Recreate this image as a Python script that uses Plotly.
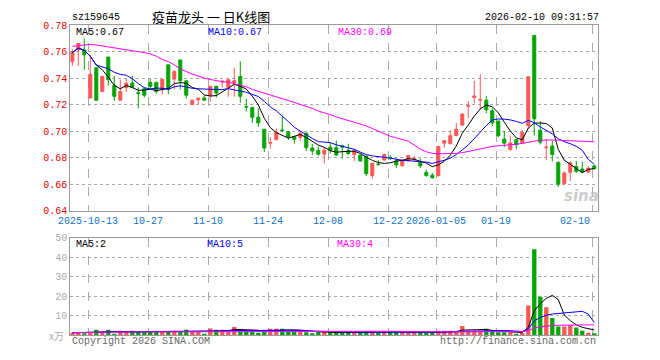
import plotly.graph_objects as go
import pandas as pd

# ---------------- data ----------------
opens = [0.7524, 0.7612, 0.7612, 0.7251, 0.7478, 0.7300, 0.7559, 0.7344, 0.7234, 0.7329,
         0.7363, 0.7290, 0.7320, 0.7368, 0.7368, 0.7315, 0.7500, 0.7393, 0.7537, 0.7380,
         0.7202, 0.7237, 0.7251, 0.7271, 0.7339, 0.7371, 0.7332, 0.7368, 0.7412, 0.7185,
         0.7178, 0.7105, 0.7015, 0.6910, 0.6937, 0.7010, 0.6995, 0.6959, 0.6954, 0.6985,
         0.6873, 0.6856, 0.6827, 0.6880, 0.6876, 0.6890, 0.6856, 0.6824, 0.6820, 0.6812,
         0.6666, 0.6753, 0.6783, 0.6802, 0.6776, 0.6739, 0.6776, 0.6788, 0.6763, 0.6690,
         0.6668, 0.6666, 0.6910, 0.6905, 0.6966, 0.7046, 0.7188, 0.7254, 0.7234, 0.7234,
         0.7154, 0.7076, 0.6941, 0.6863, 0.6937, 0.6912, 0.7044, 0.7722, 0.7007, 0.6875,
         0.6888, 0.6766, 0.6605, 0.6690, 0.6734, 0.6715, 0.6693, 0.6739]
highs = [0.7620, 0.7661, 0.7698, 0.7573, 0.7478, 0.7417, 0.7559, 0.7417, 0.7388, 0.7393,
         0.7417, 0.7332, 0.7332, 0.7393, 0.7373, 0.7390, 0.7500, 0.7461, 0.7537, 0.7380,
         0.7234, 0.7249, 0.7271, 0.7344, 0.7339, 0.7388, 0.7393, 0.7478, 0.7527, 0.7246,
         0.7178, 0.7173, 0.7015, 0.6954, 0.7020, 0.7112, 0.6998, 0.6965, 0.6998, 0.6990,
         0.6905, 0.6885, 0.6880, 0.6917, 0.6929, 0.6898, 0.6905, 0.6868, 0.6825, 0.6815,
         0.6759, 0.6783, 0.6832, 0.6820, 0.6795, 0.6788, 0.6820, 0.6812, 0.6795, 0.6710,
         0.6685, 0.6885, 0.6929, 0.7007, 0.7063, 0.7137, 0.7227, 0.7380, 0.7429, 0.7266,
         0.7173, 0.7080, 0.7002, 0.6966, 0.6940, 0.7007, 0.7410, 0.7722, 0.7076, 0.6941,
         0.6929, 0.6770, 0.6698, 0.6771, 0.6776, 0.6771, 0.6734, 0.6741]
lows = [0.7490, 0.7490, 0.7461, 0.7246, 0.7229, 0.7295, 0.7344, 0.7229, 0.7234, 0.7295,
        0.7332, 0.7173, 0.7254, 0.7320, 0.7283, 0.7278, 0.7278, 0.7315, 0.7315, 0.7246,
        0.7197, 0.7202, 0.7229, 0.7222, 0.7254, 0.7332, 0.7259, 0.7259, 0.7215, 0.7149,
        0.7063, 0.7032, 0.6844, 0.6868, 0.6929, 0.6995, 0.6934, 0.6905, 0.6929, 0.6851,
        0.6820, 0.6815, 0.6759, 0.6832, 0.6815, 0.6795, 0.6820, 0.6776, 0.6771, 0.6661,
        0.6641, 0.6739, 0.6778, 0.6783, 0.6722, 0.6734, 0.6771, 0.6771, 0.6722, 0.6656,
        0.6641, 0.6656, 0.6876, 0.6905, 0.6963, 0.7039, 0.7100, 0.7210, 0.7161, 0.7137,
        0.7039, 0.6954, 0.6880, 0.6854, 0.6863, 0.6905, 0.7015, 0.6966, 0.6900, 0.6783,
        0.6771, 0.6580, 0.6595, 0.6624, 0.6685, 0.6685, 0.6685, 0.6717]
closes = [0.7593, 0.7661, 0.7576, 0.7429, 0.7234, 0.7412, 0.7388, 0.7263, 0.7300, 0.7361,
          0.7332, 0.7286, 0.7271, 0.7339, 0.7300, 0.7390, 0.7315, 0.7449, 0.7380, 0.7271,
          0.7234, 0.7249, 0.7234, 0.7337, 0.7288, 0.7376, 0.7388, 0.7380, 0.7263, 0.7183,
          0.7105, 0.7063, 0.6873, 0.6914, 0.6990, 0.7005, 0.6959, 0.6939, 0.6983, 0.6876,
          0.6851, 0.6827, 0.6856, 0.6856, 0.6820, 0.6880, 0.6832, 0.6856, 0.6776, 0.6680,
          0.6759, 0.6749, 0.6824, 0.6798, 0.6746, 0.6783, 0.6817, 0.6793, 0.6739, 0.6666,
          0.6649, 0.6885, 0.6929, 0.6966, 0.7015, 0.7129, 0.7193, 0.7266, 0.7239, 0.7161,
          0.7063, 0.6966, 0.6910, 0.6912, 0.6898, 0.6990, 0.7410, 0.7093, 0.6917, 0.6880,
          0.6824, 0.6600, 0.6685, 0.6763, 0.6698, 0.6693, 0.6722, 0.6717]
# MA30 of price (needs history before the first bar)
ma30_price = [0.7640, 0.7645, 0.7652, 0.7654, 0.7650, 0.7643, 0.7638, 0.7630, 0.7622, 0.7615,
              0.7607, 0.7600, 0.7592, 0.7583, 0.7565, 0.7540, 0.7525, 0.7500, 0.7470, 0.7450,
              0.7430, 0.7417, 0.7400, 0.7390, 0.7380, 0.7373, 0.7370, 0.7360, 0.7349, 0.7335,
              0.7315, 0.7300, 0.7285, 0.7270, 0.7259, 0.7245, 0.7232, 0.7218, 0.7205, 0.7190,
              0.7172, 0.7152, 0.7140, 0.7125, 0.7108, 0.7095, 0.7080, 0.7068, 0.7053, 0.7040,
              0.7020, 0.7000, 0.6980, 0.6962, 0.6950, 0.6935, 0.6925, 0.6895, 0.6865, 0.6845,
              0.6833, 0.6830, 0.6830, 0.6832, 0.6833, 0.6838, 0.6848, 0.6855, 0.6865, 0.6878,
              0.6885, 0.6890, 0.6893, 0.6897, 0.6902, 0.6908, 0.6918, 0.6925, 0.6932, 0.6934,
              0.6934, 0.6932, 0.6930, 0.6928, 0.6925, 0.6922, 0.6921, 0.6920]
volumes = [1.3, 1.3, 1.0, 1.5, 2.8, 1.8, 2.8, 0.8, 1.8, 1.8,
           2.3, 1.8, 1.8, 1.8, 1.8, 1.8, 1.8, 2.3, 1.8, 2.8,
           1.8, 1.8, 0.8, 3.5, 2.8, 2.8, 1.8, 4.3, 3.1, 1.8,
           2.3, 1.3, 2.0, 3.3, 3.3, 3.3, 2.0, 2.0, 2.6, 1.6,
           1.0, 1.6, 1.8, 1.5, 1.2, 1.2, 1.5, 1.5, 1.5, 2.0,
           1.5, 1.2, 2.0, 2.0, 1.6, 2.0, 1.5, 1.5, 1.2, 1.2,
           1.2, 2.3, 2.3, 2.3, 1.6, 4.8, 2.3, 2.3, 2.3, 3.3,
           2.3, 1.6, 1.6, 1.6, 0.8, 1.2, 15.2, 44.1, 19.7, 14.4,
           8.9, 4.5, 4.5, 5.1, 4.0, 2.3, 1.3, 1.0]
date_ticks = {3: "2025-10-13", 13: "10-27", 23: "11-10", 33: "11-24", 43: "12-08",
              53: "12-22", 61: "2026-01-05", 71: "01-19", 87: "02-10"}
price_ticks = [0.64, 0.66, 0.68, 0.70, 0.72, 0.74, 0.76, 0.78]
vol_ticks = [10, 20, 30, 40, 50]

# ---------------- derived ----------------
n = len(closes)
idx = list(range(n))
cs = pd.Series(closes)
ma5 = cs.rolling(5, min_periods=1).mean()
ma10 = cs.rolling(10, min_periods=1).mean()
vs = pd.Series(volumes)
vma5 = vs.rolling(5, min_periods=1).mean()
vma10 = vs.rolling(10, min_periods=1).mean()
vma30 = vs.rolling(30, min_periods=1).mean()

RED = "#ff5656"
GREEN = "#00a600"
GRID = "#aaaaaa"
BORDER = "#999999"
MONO = "Liberation Mono, DejaVu Sans Mono, monospace"

W, H = 660, 360
XL, XR = 70.3, 597.7
PT, PB = 20.7, 212.3
VT, VB = 240.0, 340.7


def px(x):
    return x / W


def py(y):
    return 1 - y / H


x_range = [-0.333, 87.57]
grid_x = [k - 0.333 for k in date_ticks]

fig = go.Figure()
fig.add_trace(go.Candlestick(
    x=idx, open=opens, high=highs, low=lows, close=closes,
    increasing=dict(line=dict(color=RED, width=1), fillcolor=RED),
    decreasing=dict(line=dict(color=GREEN, width=1), fillcolor=GREEN),
    whiskerwidth=0, xaxis="x", yaxis="y", showlegend=False, hoverinfo="skip"))
fig.add_trace(go.Scatter(x=idx, y=ma5, mode="lines", line=dict(color="#000000", width=1),
                         xaxis="x", yaxis="y", showlegend=False, hoverinfo="skip"))
fig.add_trace(go.Scatter(x=idx, y=ma10, mode="lines", line=dict(color="#0000ff", width=1),
                         xaxis="x", yaxis="y", showlegend=False, hoverinfo="skip"))
fig.add_trace(go.Scatter(x=idx, y=ma30_price, mode="lines", line=dict(color="#ff00ff", width=1),
                         xaxis="x", yaxis="y", showlegend=False, hoverinfo="skip"))

vcolors = [RED if c >= o else GREEN for o, c in zip(opens, closes)]
fig.add_trace(go.Bar(x=idx, y=volumes, marker=dict(color=vcolors, line=dict(width=0)),
                     width=0.72, xaxis="x2", yaxis="y2", showlegend=False, hoverinfo="skip"))
fig.add_trace(go.Scatter(x=idx, y=vma5, mode="lines", line=dict(color="#000000", width=1),
                         xaxis="x2", yaxis="y2", showlegend=False, hoverinfo="skip"))
fig.add_trace(go.Scatter(x=idx, y=vma10, mode="lines", line=dict(color="#0000ff", width=1),
                         xaxis="x2", yaxis="y2", showlegend=False, hoverinfo="skip"))
fig.add_trace(go.Scatter(x=idx, y=vma30, mode="lines", line=dict(color="#ff00ff", width=1),
                         xaxis="x2", yaxis="y2", showlegend=False, hoverinfo="skip"))

axis_common = dict(showline=True, linecolor=BORDER, linewidth=1, mirror=True,
                   zeroline=False, ticks="", fixedrange=True)

annotations = []
# date labels
for k, lab in date_ticks.items():
    annotations.append(dict(x=k - 0.333, xref="x", y=py(223), yref="paper",
                            text=lab, showarrow=False,
                            xanchor="right" if k == max(date_ticks) else "center",
                            yanchor="middle",
                            font=dict(family=MONO, size=10, color="#1273c8")))
# header
annotations += [
    dict(x=px(70), y=py(12.5), xref="paper", yref="paper", text="sz159645", showarrow=False,
         xanchor="left", yanchor="middle", font=dict(family=MONO, size=10, color="#000")),
    dict(x=px(150), y=py(12), xref="paper", yref="paper", text="疫苗龙头 一 日K线图",
         showarrow=False, xanchor="left", yanchor="middle",
         font=dict(family="Noto Sans CJK SC", size=13, color="#000")),
    dict(x=px(601), y=py(12.5), xref="paper", yref="paper", text="2026-02-10 09:31:57",
         showarrow=False, xanchor="right", yanchor="middle",
         font=dict(family=MONO, size=10, color="#000")),
    dict(x=px(74), y=py(28), xref="paper", yref="paper", text="MA5:0.67", showarrow=False,
         xanchor="left", yanchor="middle", font=dict(family=MONO, size=10, color="#000")),
    dict(x=px(206), y=py(28), xref="paper", yref="paper", text="MA10:0.67", showarrow=False,
         xanchor="left", yanchor="middle", font=dict(family=MONO, size=10, color="#0000ff")),
    dict(x=px(336), y=py(28), xref="paper", yref="paper", text="MA30:0.69", showarrow=False,
         xanchor="left", yanchor="middle", font=dict(family=MONO, size=10, color="#ff00ff")),
    dict(x=px(74), y=py(247), xref="paper", yref="paper", text="MA5:2", showarrow=False,
         xanchor="left", yanchor="middle", font=dict(family=MONO, size=10, color="#000")),
    dict(x=px(205), y=py(247), xref="paper", yref="paper", text="MA10:5", showarrow=False,
         xanchor="left", yanchor="middle", font=dict(family=MONO, size=10, color="#0000ff")),
    dict(x=px(335), y=py(247), xref="paper", yref="paper", text="MA30:4", showarrow=False,
         xanchor="left", yanchor="middle", font=dict(family=MONO, size=10, color="#ff00ff")),
    dict(x=px(66), y=py(341), xref="paper", yref="paper", text="x万", showarrow=False,
         xanchor="right", yanchor="middle",
         font=dict(family="Noto Sans CJK SC", size=10, color="#aaaaaa")),
    dict(x=px(70), y=py(347), xref="paper", yref="paper", text="Copyright 2026 SINA.COM",
         showarrow=False, xanchor="left", yanchor="middle",
         font=dict(family=MONO, size=10, color="#666666")),
    dict(x=px(598), y=py(347), xref="paper", yref="paper", text="http://finance.sina.com.cn",
         showarrow=False, xanchor="right", yanchor="middle",
         font=dict(family=MONO, size=10, color="#666666")),
    dict(x=px(581), y=py(197), xref="paper", yref="paper", text="<b><i>sina</i></b>",
         showarrow=False, xanchor="center", yanchor="middle",
         font=dict(family="DejaVu Sans", size=15, color="rgba(190,190,190,0.8)")),
]

fig.update_layout(
    width=W, height=H, autosize=False,
    margin=dict(l=0, r=0, t=0, b=0, pad=0),
    paper_bgcolor="#ffffff", plot_bgcolor="#ffffff",
    boxgap=0.28, bargap=0.28,
    xaxis=dict(domain=[px(XL), px(XR)], range=x_range, anchor="y",
               rangeslider=dict(visible=False), showticklabels=False,
               tickmode="array", tickvals=grid_x, showgrid=True,
               gridcolor=GRID, griddash="dash", gridwidth=1, **axis_common),
    yaxis=dict(domain=[py(PB), py(PT)], range=[0.64, 0.78], anchor="x",
               tickmode="array", tickvals=price_ticks,
               ticktext=[f"{v:.2f}" for v in price_ticks],
               tickfont=dict(family=MONO, size=10, color="#ee0000"),
               showgrid=True, gridcolor=GRID, griddash="dot", gridwidth=1, **axis_common),
    xaxis2=dict(domain=[px(XL), px(XR)], range=x_range, anchor="y2",
                showticklabels=False, tickmode="array", tickvals=grid_x, showgrid=True,
                gridcolor=GRID, griddash="dash", gridwidth=1, **axis_common),
    yaxis2=dict(domain=[py(VB), py(VT)], range=[0, 50], anchor="x2",
                tickmode="array", tickvals=vol_ticks,
                ticktext=[str(v) for v in vol_ticks],
                tickfont=dict(family=MONO, size=10, color="#aaaaaa"),
                showgrid=True, gridcolor=GRID, griddash="dot", gridwidth=1, **axis_common),
    annotations=annotations,
    showlegend=False,
)

fig.write_html("out.html")
